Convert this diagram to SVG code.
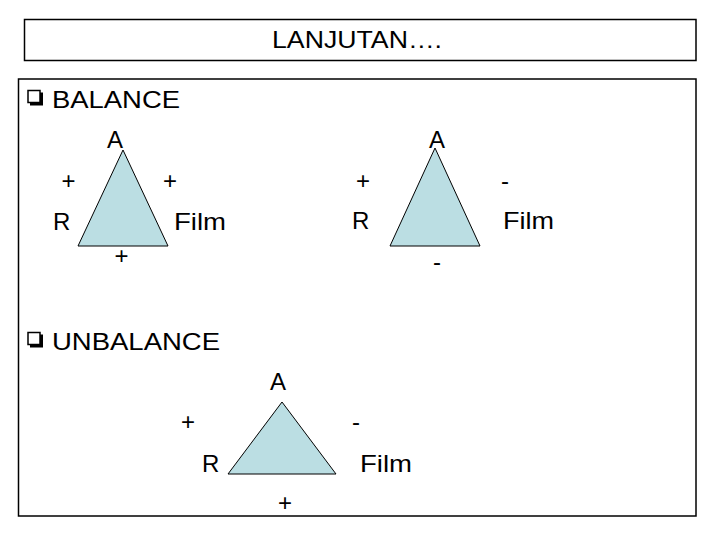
<svg xmlns="http://www.w3.org/2000/svg" width="720" height="540" viewBox="0 0 720 540">
<style>
text{font-family:"Liberation Sans",Arial,sans-serif;font-size:24px;fill:#000}
.c{text-anchor:middle}
.tri{fill:#BBDEE3;stroke:#000;stroke-width:1}
.box{fill:#fff;stroke:#000;stroke-width:1.5}
.chk{fill:#fff;stroke:#000;stroke-width:1.5}
.sh{fill:none;stroke:#000;stroke-width:3}
</style>
<rect width="720" height="540" fill="#fff"/>
<g id="title">
<rect class="box" x="24.5" y="19.5" width="671.5" height="41"/>
<text x="272" y="48" textLength="170" lengthAdjust="spacingAndGlyphs">LANJUTAN….</text>
</g>
<g id="content">
<rect class="box" x="18.5" y="79" width="677.5" height="437"/>
</g>
<g id="balance-heading">
<rect class="chk" x="28" y="90.5" width="12" height="12"/>
<path class="sh" d="M30 104H41.5V92.5"/>
<text x="52" y="108" textLength="128" lengthAdjust="spacingAndGlyphs">BALANCE</text>
</g>
<g id="tri-balance-1">
<polygon class="tri" points="123,150 78,246 168,246"/>
<text class="c" x="115" y="148">A</text>
<text class="c" x="68.5" y="189">+</text>
<text class="c" x="170" y="189">+</text>
<text x="53" y="230">R</text>
<text x="174" y="230" textLength="52" lengthAdjust="spacingAndGlyphs">Film</text>
<text class="c" x="121.5" y="264">+</text>
</g>
<g id="tri-balance-2">
<polygon class="tri" points="435,148 390,246 480,246"/>
<text class="c" x="437" y="148">A</text>
<text class="c" x="363" y="189">+</text>
<text class="c" x="505" y="188.5">-</text>
<text x="352" y="229">R</text>
<text x="503" y="229" textLength="51" lengthAdjust="spacingAndGlyphs">Film</text>
<text class="c" x="437" y="269.5">-</text>
</g>
<g id="unbalance-heading">
<rect class="chk" x="28" y="332.5" width="12" height="12"/>
<path class="sh" d="M30 346H41.5V334.5"/>
<text x="52" y="350" textLength="168" lengthAdjust="spacingAndGlyphs">UNBALANCE</text>
</g>
<g id="tri-unbalance">
<polygon class="tri" points="282,402 228,474 336,474"/>
<text class="c" x="278" y="390">A</text>
<text class="c" x="188" y="430">+</text>
<text class="c" x="356" y="429.5">-</text>
<text x="202" y="472">R</text>
<text x="360" y="472" textLength="52" lengthAdjust="spacingAndGlyphs">Film</text>
<text class="c" x="285" y="511">+</text>
</g>
<g id="connectors"/>
</svg>
